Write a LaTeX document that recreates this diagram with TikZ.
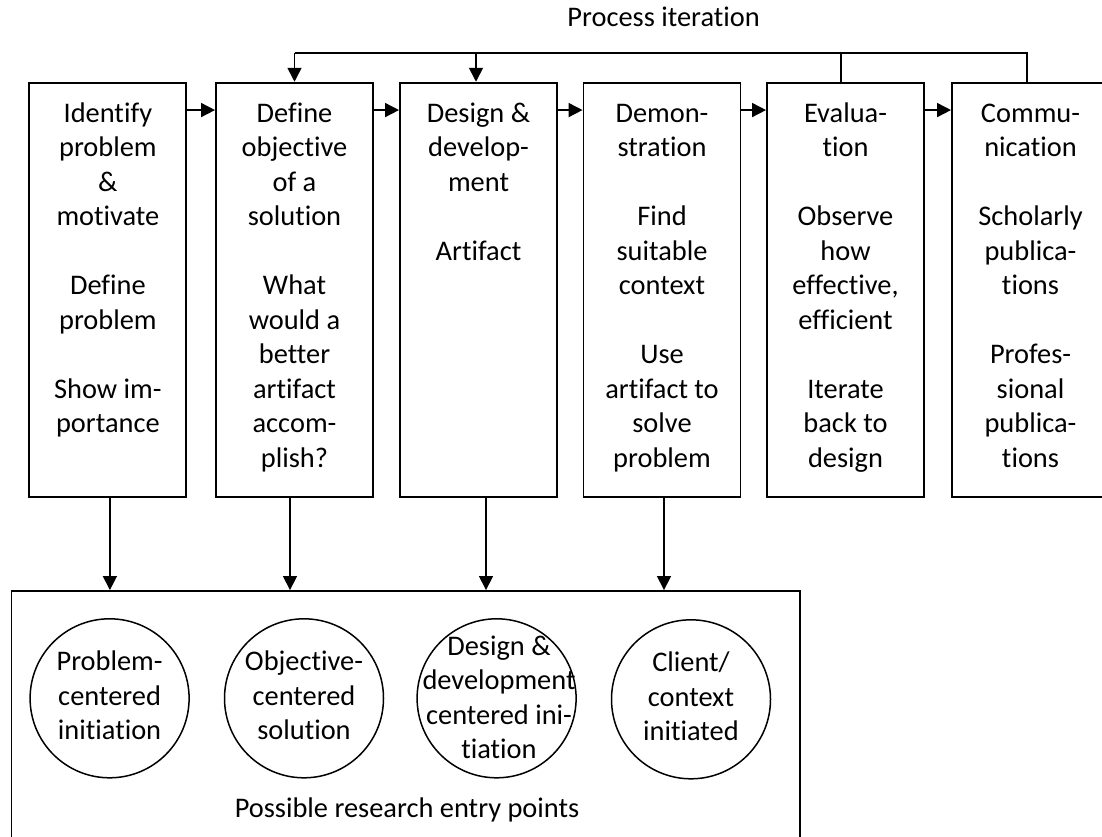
\documentclass[tikz,border=0pt]{standalone}
\usepackage{fontspec}
\setmainfont{Carlito}[Ligatures={NoCommon,NoContextual,NoRare}]
\usetikzlibrary{arrows.meta}
\begin{document}
\begin{tikzpicture}[x=1pt,y=-1pt, line width=1.9pt,
  >={Triangle[length=14pt,width=14pt]},
  stage/.style={draw, rectangle, minimum width=157pt, minimum height=414pt, inner sep=0pt},
  stagetext/.style={align=center, anchor=north, inner sep=0pt, font=\fontsize{28.4}{34.5}\selectfont},
  entry/.style={draw, circle, minimum size=159pt, inner sep=0pt, line width=1.5pt},
  entrytext/.style={align=center, inner sep=0pt, font=\fontsize{28.4}{34.5}\selectfont},
  lab/.style={inner sep=0pt, anchor=base, font=\fontsize{28.4}{34.5}\selectfont},
  link/.style={->, line width=1.6pt}]
\clip (0,0) rectangle (1102,836);

% process stages
\node[stage] (b1) at (107.9,289.7) {};
\node[stage] (b2) at (294.5,289.7) {};
\node[stage] (b3) at (478.5,289.7) {};
\node[stage] (b4) at (662,289.7) {};
\node[stage] (b5) at (845.5,289.7) {};
\node[stage] (b6) at (1030.5,289.7) {};

\node[stagetext] (t1) at (107.9,97) {\strut Identify\\problem\\\&\\motivate\\[34.5pt]Define\\problem\\[34.5pt]Show im-\\portance};
\node[stagetext] (t2) at (294.5,97) {\strut Define\\objective\\of a\\solution\\[34.5pt]What\\would a\\better\\artifact\\accom-\\plish?};
\node[stagetext] (t3) at (478.5,97) {\strut Design \&\\develop-\\ment\\[34.5pt]Artifact};
\node[stagetext] (t4) at (662,97) {\strut Demon-\\stration\\[34.5pt]Find\\suitable\\context\\[34.5pt]Use\\artifact to\\solve\\problem};
\node[stagetext] (t5) at (845.5,97) {\strut Evalua-\\tion\\[34.5pt]Observe\\how\\effective,\\efficient\\[34.5pt]Iterate\\back to\\design};
\node[stagetext] (t6) at (1030.5,97) {\strut Commu-\\nication\\[34.5pt]Scholarly\\publica-\\tions\\[34.5pt]Profes-\\sional\\publica-\\tions};

% sequence arrows
\draw[link] ([yshift=-28.3pt]b1.north east) -- ([yshift=-28.3pt]b2.north west);
\draw[link] ([yshift=-28.3pt]b2.north east) -- ([yshift=-28.3pt]b3.north west);
\draw[link] ([yshift=-28.3pt]b3.north east) -- ([yshift=-28.3pt]b4.north west);
\draw[link] ([yshift=-28.3pt]b4.north east) -- ([yshift=-28.3pt]b5.north west);
\draw[link] ([yshift=-28.3pt]b5.north east) -- ([yshift=-28.3pt]b6.north west);

% process iteration
\coordinate (iterL) at (294.5,53);
\node[lab] (pi) at (663.6,26) {Process iteration};
\draw[line width=1.6pt] ([xshift=-3.5pt]b6.north) |- (iterL);
\draw[line width=1.6pt] ([xshift=-4.5pt]b5.north) -- ([xshift=-4.5pt]b5.north |- iterL);
\draw[link] (iterL) -- (b2.north);
\draw[link] ([xshift=-2.5pt]b3.north |- iterL) -- ([xshift=-2.5pt]b3.north);

% entry points
\node[draw, rectangle, minimum width=788.5pt, minimum height=259pt, inner sep=0pt] (entries) at (405.75,720.5) {};
\node[entry] (c1) at (109.6,698.3) {};
\node[entry] (c2) at (304,698.3) {};
\node[entry] (c3) at (496.6,698.3) {};
\node[entry] (c4) at (691,699.3) {};
\node[entrytext] (c1t) at (109.6,698.3) {\strut Problem-\\centered\\initiation\strut};
\node[entrytext] (c2t) at (304,698.3) {\strut Objective-\\centered\\solution\strut};
\node[entrytext] (c3t) at (499,700) {\strut Design \&\\development\\centered ini-\\tiation\strut};
\node[entrytext] (c4t) at (691,699.3) {\strut Client/\\context\\initiated\strut};
\node[lab] (pr) at (407,817) {Possible research entry points};

\draw[link] ([xshift=2pt]b1.south) -- ([xshift=2pt]b1.south |- entries.north);
\draw[link] ([xshift=-4.5pt]b2.south) -- ([xshift=-4.5pt]b2.south |- entries.north);
\draw[link] ([xshift=7.5pt]b3.south) -- ([xshift=7.5pt]b3.south |- entries.north);
\draw[link] ([xshift=2pt]b4.south) -- ([xshift=2pt]b4.south |- entries.north);
\end{tikzpicture}
\end{document}
